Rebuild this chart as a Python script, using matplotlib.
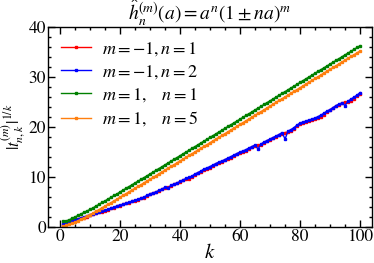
import matplotlib
matplotlib.use("Agg")
import matplotlib.pyplot as plt
from matplotlib.ticker import MultipleLocator

# --- Data ---
k_vals = list(range(1, 101))

red_m1_n1 = [
    0.3, 0.6, 0.8, 1.1, 1.3, 1.5, 1.7, 1.8, 1.9, 2.3,
    2.5, 2.7, 2.9, 3.0, 3.2, 3.4, 3.7, 3.8, 4.1, 4.2,
    4.5, 4.7, 4.8, 5.1, 5.2, 5.4, 5.7, 5.8, 6.2, 6.5,
    6.7, 7.0, 7.2, 7.5, 7.8, 7.9, 8.2, 8.5, 8.7, 9.0,
    9.3, 9.5, 9.6, 10.0, 10.4, 10.8, 11.1, 11.4, 11.6, 11.9,
    12.3, 12.6, 12.9, 13.1, 13.4, 13.6, 13.9, 14.3, 14.6, 14.9,
    15.1, 15.3, 15.7, 16.0, 16.3, 16.4, 16.5, 16.8, 17.2, 17.5,
    17.8, 18.1, 18.4, 18.7, 18.9, 19.0, 19.2, 19.6, 20.2, 20.7,
    20.9, 21.1, 21.3, 21.5, 21.7, 21.8, 22.0, 22.5, 23.1, 23.4,
    23.8, 24.2, 24.5, 24.8, 25.0, 25.0, 25.3, 25.7, 26.2, 26.6,
]

blue_m1_n2 = [
    0.5, 0.7, 0.9, 1.2, 1.4, 1.6, 1.8, 2.0, 2.2, 2.4,
    2.6, 2.8, 2.9, 3.1, 3.3, 3.5, 3.7, 3.9, 4.2, 4.4,
    4.5, 4.7, 4.9, 5.1, 5.3, 5.5, 5.7, 6.0, 6.3, 6.6,
    6.8, 7.0, 7.3, 7.6, 7.9, 7.8, 8.3, 8.6, 8.8, 9.1,
    9.4, 9.7, 9.9, 10.2, 10.6, 10.9, 11.2, 11.6, 11.8, 12.1,
    12.4, 12.7, 13.0, 13.2, 13.5, 13.8, 14.1, 14.4, 14.7, 15.0,
    15.2, 15.5, 15.8, 16.1, 16.4, 15.6, 16.6, 17.0, 17.3, 17.6,
    17.9, 18.2, 18.5, 18.9, 17.6, 19.2, 19.5, 19.9, 20.4, 20.8,
    21.0, 21.2, 21.4, 21.6, 21.8, 22.1, 22.4, 22.8, 23.2, 23.5,
    23.9, 24.3, 24.6, 24.8, 24.3, 25.2, 25.6, 26.0, 26.4, 26.9,
]

green_p1_n1 = [
    1.10, 1.20, 1.40, 1.70, 2.00, 2.30, 2.60, 2.90, 3.20, 3.50,
    3.80, 4.20, 4.50, 4.90, 5.20, 5.60, 5.90, 6.30, 6.60, 7.00,
    7.36, 7.72, 8.08, 8.44, 8.80, 9.16, 9.52, 9.88, 10.24, 10.60,
    10.97, 11.33, 11.70, 12.06, 12.43, 12.80, 13.16, 13.53, 13.89, 14.26,
    14.63, 14.99, 15.36, 15.72, 16.09, 16.46, 16.82, 17.19, 17.55, 17.92,
    18.29, 18.65, 19.02, 19.38, 19.75, 20.12, 20.48, 20.85, 21.21, 21.58,
    21.95, 22.32, 22.68, 23.05, 23.42, 23.79, 24.15, 24.52, 24.89, 25.25,
    25.62, 25.99, 26.36, 26.73, 27.09, 27.46, 27.83, 28.20, 28.56, 28.93,
    29.30, 29.67, 30.03, 30.40, 30.77, 31.14, 31.51, 31.87, 32.24, 32.61,
    32.98, 33.34, 33.71, 34.08, 34.45, 34.81, 35.18, 35.55, 35.92, 36.28,
]

orange_p1_n5 = [
    0.15, 0.30, 0.50, 0.75, 0.95, 1.25, 1.55, 1.85, 2.15, 2.45,
    2.75, 3.15, 3.45, 3.85, 4.15, 4.55, 4.85, 5.25, 5.55, 5.95,
    6.31, 6.67, 7.03, 7.39, 7.75, 8.11, 8.47, 8.83, 9.19, 9.55,
    9.92, 10.28, 10.65, 11.01, 11.38, 11.75, 12.11, 12.48, 12.84, 13.21,
    13.58, 13.94, 14.31, 14.67, 15.04, 15.41, 15.77, 16.14, 16.50, 16.87,
    17.24, 17.60, 17.97, 18.33, 18.70, 19.07, 19.43, 19.80, 20.16, 20.53,
    20.90, 21.27, 21.63, 22.00, 22.37, 22.74, 23.10, 23.47, 23.84, 24.20,
    24.57, 24.94, 25.31, 25.68, 26.04, 26.41, 26.78, 27.15, 27.51, 27.88,
    28.25, 28.62, 28.98, 29.35, 29.72, 30.09, 30.46, 30.82, 31.19, 31.56,
    31.93, 32.29, 32.66, 33.03, 33.40, 33.76, 34.13, 34.50, 34.87, 35.23,
]

series = [
    (red_m1_n1, "red", r"$m=-1, n=1$"),
    (blue_m1_n2, "blue", r"$m=-1, n=2$"),
    (green_p1_n1, "green", r"$m=1,\quad n=1$"),
    (orange_p1_n5, "#ff7f0e", r"$m=1,\quad n=5$"),
]

# --- Style ---
plt.rcParams["font.family"] = "STIXGeneral"
plt.rcParams["mathtext.fontset"] = "stix"
plt.rcParams["font.size"] = 12

fig = plt.figure(figsize=(3.74, 2.63), dpi=100)
ax = fig.add_axes([0.128, 0.137, 0.867, 0.760])

for vals, col, lab in series:
    ax.plot(k_vals, vals, "-", color=col, lw=1.0, marker="s", ms=1.6,
            mec=col, mfc=col, label=lab)

ax.set_xlim(-4, 104)
ax.set_ylim(0, 40)
ax.xaxis.set_major_locator(MultipleLocator(20))
ax.xaxis.set_minor_locator(MultipleLocator(5))
ax.yaxis.set_major_locator(MultipleLocator(10))
ax.yaxis.set_minor_locator(MultipleLocator(2))
ax.tick_params(which="both", direction="in", top=True, right=True, width=1)
ax.tick_params(which="major", length=5, labelsize=12.5, pad=1.5)
ax.tick_params(which="minor", length=2.5)
for sp in ax.spines.values():
    sp.set_linewidth(1.0)

# title placed by baseline so the hat stays inside the canvas
fig.text(0.561, 1 - 20.5 / 263, r"$\hat{h}_n^{(m)}(a) = a^n(1 \pm na)^m$",
         fontsize=14, ha="center", va="baseline")

ax.set_xlabel(r"$k$", fontsize=15, labelpad=-1)
ax.set_ylabel(r"$|t_{n,k}^{(m)}|^{1/k}$", fontsize=12, labelpad=0)
ax.yaxis.set_label_coords(-0.062, 0.5)

ax.legend(loc="upper left", frameon=False, fontsize=13, handlelength=1.7,
          labelspacing=0.3, borderaxespad=0.3, handletextpad=0.6,
          borderpad=0.4)

fig.savefig("out.png", dpi=100)
